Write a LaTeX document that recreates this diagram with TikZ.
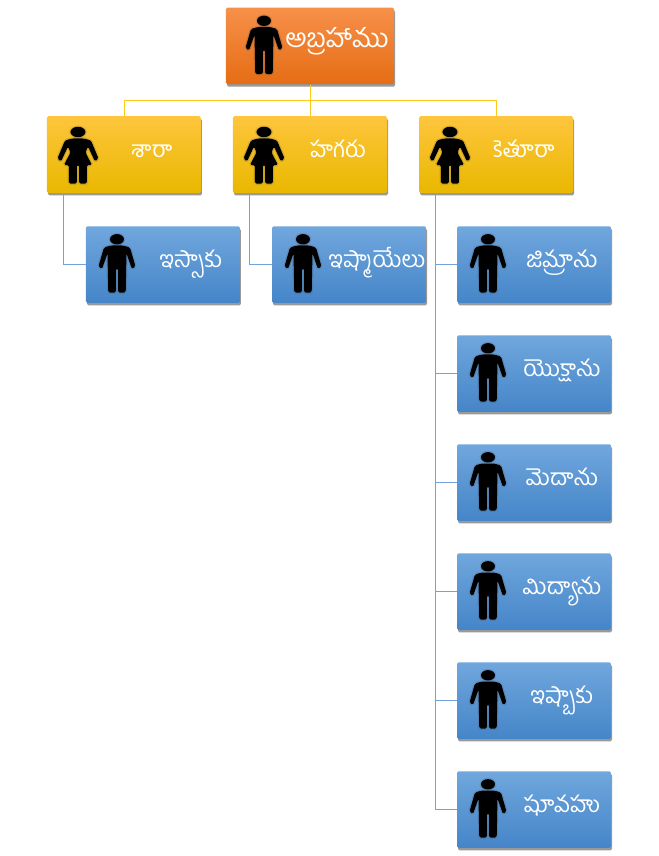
\documentclass[tikz,border=0pt]{standalone}
\usepackage{fontspec}
\newfontfamily\telugu[Script=Telugu]{Hind Guntur}
\usetikzlibrary{positioning, shadows}

\definecolor{rootlight}{HTML}{F79049}
\definecolor{rootmid}{HTML}{F57F26}
\definecolor{rootdark}{HTML}{E56D14}
\definecolor{wifelight}{HTML}{FEC53D}
\definecolor{wifemid}{HTML}{FFC800}
\definecolor{wifedark}{HTML}{E9B800}
\definecolor{childlight}{HTML}{70A7DD}
\definecolor{childmid}{HTML}{4F94D6}
\definecolor{childdark}{HTML}{4585C8}
\definecolor{wifeline}{HTML}{FFC91A}
\definecolor{childline}{HTML}{6FA5DC}

\tikzset{
  manicon/.pic={
    \begin{scope}[x=.02cm,y=-.02cm,shift={(-46,-26)}]
      \fill[iconfill] (0,.8) ellipse (7 and 5.2);
      \fill[iconfill,rounded corners=.03cm] (-6,7) -- (6,7) -- (13,9) -- (18.5,28) -- (15,30.5)
        -- (9.5,15) -- (8.7,54) -- (1.2,54) -- (1.2,30) -- (-1.2,30) -- (-1.2,54) -- (-8.7,54)
        -- (-9.5,15) -- (-15,30.5) -- (-18.5,28) -- (-13,9) -- cycle;
    \end{scope}
  },
  womanicon/.pic={
    \begin{scope}[x=.02cm,y=-.02cm,shift={(-46,-23)}]
      \fill[iconfill] (0,.5) ellipse (7.5 and 5.2);
      \fill[iconfill,rounded corners=.03cm] (-6,7) -- (6,7) -- (13,9) -- (20.5,27) -- (17,30)
        -- (10,15) -- (7.5,21) -- (14,33.5) -- (9,33.5) -- (9,52) -- (1.2,52) -- (1.2,33.5) -- (-1.2,33.5)
        -- (-1.2,52) -- (-9,52) -- (-9,33.5) -- (-14,33.5) -- (-7.5,21) -- (-10,15) -- (-17,30) -- (-20.5,27)
        -- (-13,9) -- cycle;
    \end{scope}
  },
  iconfill/.style={fill=black,preaction={draw=black!70,opacity=.2,line width=.05cm}},
  personbox/.style={shape=rectangle,rounded corners=.03cm,minimum width=3.08cm,minimum height=1.53cm,inner sep=0pt,
    drop shadow={shadow xshift=.02cm,shadow yshift=-.05cm,fill=black,opacity=.4}},
  rootbox/.style={personbox,minimum width=3.36cm,top color=rootlight,middle color=rootmid,bottom color=rootdark},
  wifebox/.style={personbox,top color=wifelight,middle color=wifemid,bottom color=wifedark},
  childbox/.style={personbox,top color=childlight,middle color=childmid,bottom color=childdark},
  nametext/.style={text=white,font=\telugu\fontsize{13pt}{14pt}\selectfont,text height=.34cm,text depth=.2cm,xshift=.56cm,yshift=.02cm},
  roottext/.style={text=white,font=\telugu\fontsize{14.9pt}{16pt}\selectfont,text height=.34cm,text depth=.2cm,xshift=.54cm,yshift=.03cm},
  wifelink/.style={draw=wifeline,line width=.4pt},
  childlink/.style={draw=childline,line width=.4pt}
}

\begin{document}
\begin{tikzpicture}[node distance=2.17cm,on grid]
    \useasboundingbox (-6.2,.92) rectangle (6.96,-16.2);

    \node[rootbox] (abraham) {};
    \node[wifebox,below of=abraham] (hagar) {};
    \node[wifebox,left=3.72cm of hagar] (sarah) {};
    \node[wifebox,right=3.72cm of hagar] (keturah) {};

    \node[childbox,below right=2.2cm and .78cm of sarah] (isaac) {};
    \node[childbox,below right=2.2cm and .78cm of hagar] (ishmael) {};
    \node[childbox,below right=2.2cm and .76cm of keturah] (zimran) {};
    \node[childbox,below=2.18cm of zimran] (jokshan) {};
    \node[childbox,below=2.18cm of jokshan] (medan) {};
    \node[childbox,below=2.18cm of medan] (midian) {};
    \node[childbox,below=2.18cm of midian] (ishbak) {};
    \node[childbox,below=2.18cm of ishbak] (shuah) {};

    \node[roottext] (abrahamname) at (abraham) {అబ్రహాము};
    \node[nametext] (sarahname) at (sarah) {శారా};
    \node[nametext] (hagarname) at (hagar) {హగరు};
    \node[nametext] (keturahname) at (keturah) {కెతూరా};
    \node[nametext] (isaacname) at (isaac) {ఇస్సాకు};
    \node[nametext] (ishmaelname) at (ishmael) {ఇష్మాయేలు};
    \node[nametext] (zimranname) at (zimran) {జిమ్రాను};
    \node[nametext] (jokshanname) at (jokshan) {యొక్షాను};
    \node[nametext] (medanname) at (medan) {మెదాను};
    \node[nametext] (midianname) at (midian) {మిద్యాను};
    \node[nametext] (ishbakname) at (ishbak) {ఇష్బాకు};
    \node[nametext] (shuahname) at (shuah) {షూవహు};

    \pic at (abraham) {manicon};
    \pic at (sarah) {womanicon};
    \pic at (hagar) {womanicon};
    \pic at (keturah) {womanicon};
    \pic at (isaac) {manicon};
    \pic at (ishmael) {manicon};
    \pic at (zimran) {manicon};
    \pic at (jokshan) {manicon};
    \pic at (medan) {manicon};
    \pic at (midian) {manicon};
    \pic at (ishbak) {manicon};
    \pic at (shuah) {manicon};

    \coordinate[below=.32cm of abraham.south] (bus);
    \draw[wifelink] (abraham.south) -- (hagar.north);
    \draw[wifelink] (bus) -| (sarah.north);
    \draw[wifelink] (bus) -| (keturah.north);

    \coordinate (sarahfoot) at ([xshift=.33cm]sarah.south west);
    \coordinate (hagarfoot) at ([xshift=.33cm]hagar.south west);
    \coordinate (keturahfoot) at ([xshift=.33cm]keturah.south west);
    \draw[childlink] (sarahfoot) |- (isaac.west);
    \draw[childlink] (hagarfoot) |- (ishmael.west);
    \draw[childlink] (keturahfoot) |- (zimran.west);
    \draw[childlink] (keturahfoot) |- (jokshan.west);
    \draw[childlink] (keturahfoot) |- (medan.west);
    \draw[childlink] (keturahfoot) |- (midian.west);
    \draw[childlink] (keturahfoot) |- (ishbak.west);
    \draw[childlink] (keturahfoot) |- (shuah.west);
\end{tikzpicture}
\end{document}
